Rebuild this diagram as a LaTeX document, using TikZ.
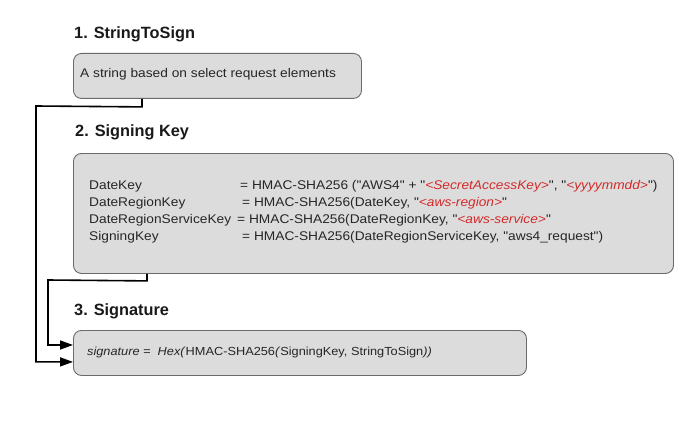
\documentclass[tikz,border=0pt]{standalone}
\usepackage{fontspec}
\setmainfont{Liberation Sans}
\newfontfamily\bodyfont[FakeStretch=1.09]{Liberation Sans}
\usetikzlibrary{arrows.meta,calc}
\definecolor{boxfill}{HTML}{DCDCDC}
\definecolor{boxline}{HTML}{6A6A6A}
\definecolor{awsred}{HTML}{D42A2A}
\newcommand{\rd}[1]{\textcolor{awsred}{\textit{#1}}}
\begin{document}
\begin{tikzpicture}[x=1pt,y=-1pt,
  box/.style={draw=boxline,fill=boxfill,rounded corners=8pt,line width=0.9pt,inner sep=0pt},
  title/.style={anchor=west,inner sep=0pt,font=\fontsize{16.3}{19}\selectfont\bfseries,text=black!90},
  txt/.style={anchor=west,inner sep=0pt,font=\bodyfont\fontsize{12.6}{15}\selectfont,text=black!85},
  conn/.style={line width=1.6pt,black},
  arr/.style={conn,-{Triangle[length=13pt,width=9pt]}}]
\useasboundingbox (0,0) rectangle (695,425);
% titles
\node[title] (t1) at (74,34) {1. StringToSign};
\node[title] (t2) at (75,132) {2. Signing Key};
\node[title] (t3) at (74,311.5) {3. Signature};
% boxes
\node[box,minimum width=288pt,minimum height=45pt,anchor=north west] (b1) at (73,53) {};
\node[box,minimum width=600pt,minimum height=120pt,anchor=north west] (b2) at (73,153) {};
\node[box,minimum width=453pt,minimum height=45pt,anchor=north west] (b3) at (73,330) {};
% box 1 text
\node[txt] (l1) at (80,74) {A string based on select request elements};
% box 2 text
\node[txt] (k1) at (89,186) {DateKey};
\node[txt] (k2) at (89,203) {DateRegionKey};
\node[txt] (k3) at (89,220) {DateRegionServiceKey};
\node[txt] (k4) at (89,237) {SigningKey};
\node[txt] (v1) at (240,186) {= HMAC-SHA256 ("AWS4" + "\rd{<SecretAccessKey>}", "\rd{<yyyymmdd>}")};
\node[txt] (v2) at (242,203) {= HMAC-SHA256(DateKey, "\rd{<aws-region>}"};
\node[txt] (v3) at (237,220) {= HMAC-SHA256(DateRegionKey, "\rd{<aws-service>}"};
\node[txt] (v4) at (242,237) {= HMAC-SHA256(DateRegionServiceKey, "aws4\_request")};
% box 3 text
\node[txt,font=\bodyfont\fontsize{11.7}{14}\selectfont] (s1) at (87,352) {\textit{signature =\ \ Hex(}HMAC-SHA256\textit{(}SigningKey, StringToSign\textit{))}};
% connectors
\coordinate (c1a) at ($(b1.south west)+(69,0)$);
\coordinate (c1b) at ($(b1.south west)+(69,8)$);
\coordinate (c1c) at (36,106);
\coordinate (c2a) at ($(b2.south west)+(74,0)$);
\coordinate (c2b) at ($(b2.south west)+(74,7)$);
\coordinate (c2c) at (48,280);
\coordinate (e1) at ($(b3.south west)+(0,-14)$);
\coordinate (e2) at ($(b3.north west)+(0,15)$);
\draw[arr] (c1a) -- (c1b) -- (c1c) |- (e1);
\draw[arr] (c2a) -- (c2b) -- (c2c) |- (e2);
\end{tikzpicture}
\end{document}
